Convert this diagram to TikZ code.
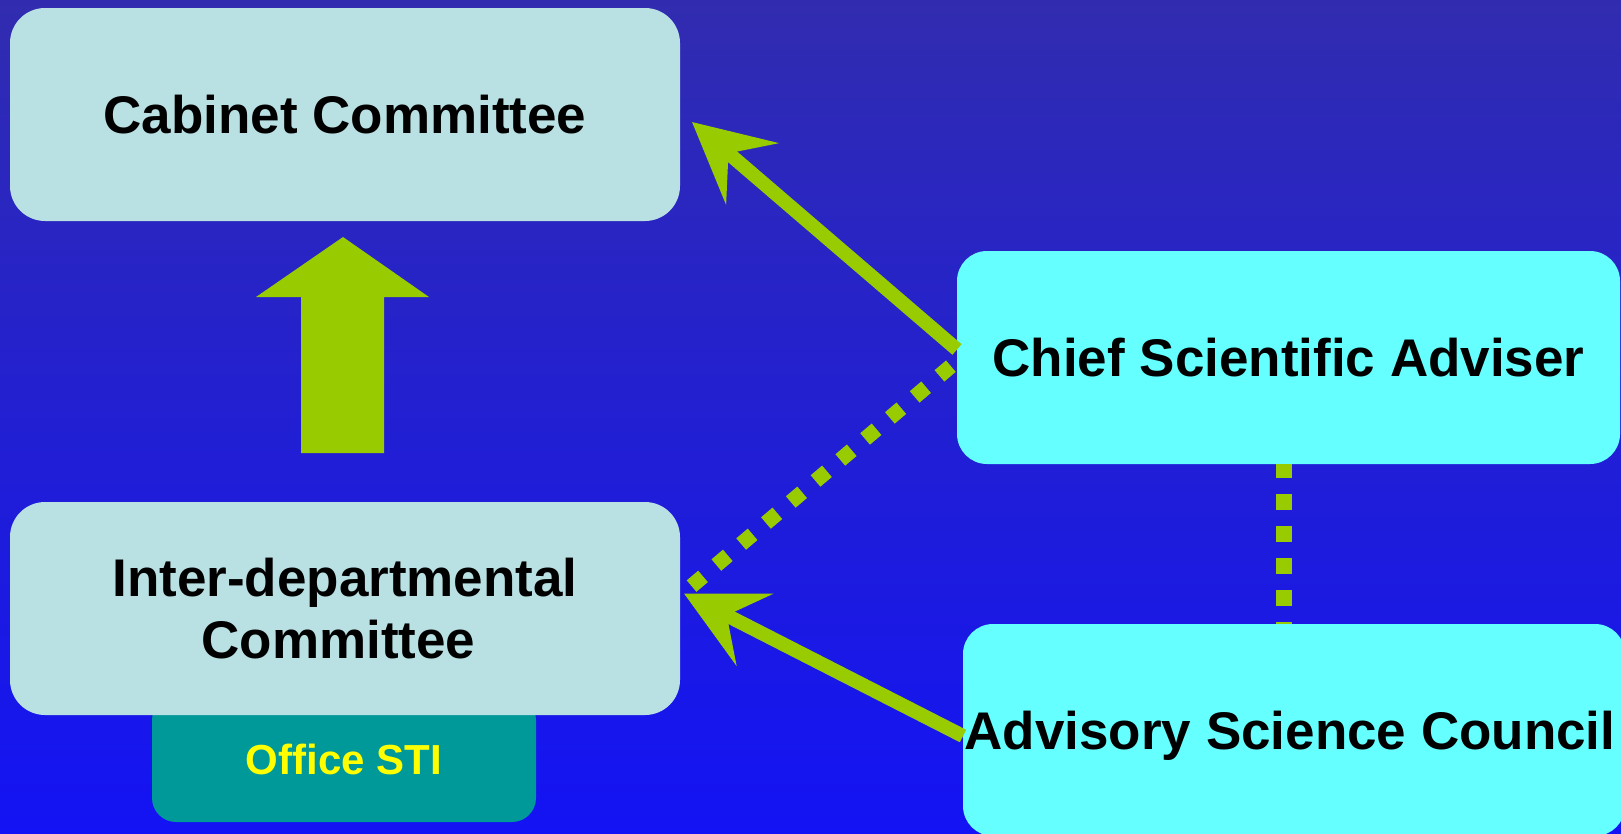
\documentclass[tikz,border=0pt]{standalone}
\usepackage{fontspec}
\setmainfont{Liberation Sans}
\usetikzlibrary{arrows.meta,calc}
\definecolor{bgtop}{RGB}{49,44,175}
\definecolor{bgbot}{RGB}{19,19,245}
\definecolor{lightbox}{RGB}{185,224,227}
\definecolor{cyanbox}{RGB}{102,255,255}
\definecolor{arrowgreen}{RGB}{153,204,0}
\definecolor{officeteal}{RGB}{0,153,153}
\definecolor{stiyellow}{RGB}{255,255,0}
\tikzset{
  box/.style={rounded corners=#1, inner sep=0pt, outer sep=0pt, align=center,
    font=\fontsize{53}{62}\selectfont\bfseries, text=black},
  govbox/.style={box=35pt, fill=lightbox, minimum width=670pt, minimum height=213pt},
  advbox/.style={box=30pt, fill=cyanbox, text height=38pt, text depth=0pt},
  officebox/.style={box=24pt, fill=officeteal, text=stiyellow,
    font=\fontsize{42}{50}\selectfont\bfseries, minimum width=384pt, minimum height=126pt},
  solidarrow/.style={draw=arrowgreen, line width=14pt,
    -{Stealth[length=79pt,width=80pt,inset=31pt]}},
  dotline/.style={draw=arrowgreen, line width=15pt, dash pattern=on 15pt off 17.5pt, dash phase=24.5pt},
  dotvline/.style={draw=arrowgreen, line width=16pt, dash pattern=on 16pt off 16pt, dash phase=14pt}
}
\begin{document}
\begin{tikzpicture}[x=1pt,y=-1pt]
\useasboundingbox (0,0) rectangle (1621,833);
\shade[top color=bgtop, bottom color=bgbot] (0,0) rectangle (1621,833);

% Office STI (behind Inter-departmental box)
\node[officebox, text height=30.5pt, text depth=0pt] (sti) at (344,759) {Office STI};

\node[govbox, text height=38pt, text depth=0pt] (cab) at (345,114.5) {Cabinet Committee};
\node[govbox] (idc) at (345,608.5) {Inter-departmental\\Committee\hspace*{13pt}};

\node[advbox, minimum width=663pt, minimum height=213pt] (csa) at (1288.5,357.5) {Chief Scientific Adviser};
\node[advbox, minimum width=662pt, minimum height=212pt] (asc) at (1294,730) {\hspace*{-8pt}Advisory Science Council};

% block arrow from IDC up to Cabinet
\fill[arrowgreen] (301,453) -- (301,297) -- (256,297) -- (343,237) -- (429,297)
  -- (384,297) -- (384,453) -- cycle;

% dotted connectors
\draw[dotline] ($(csa.west)+(0,3.5)$) -- ($(idc.east)+(4,-16)$);
\draw[dotvline] ($(asc.north)+(-10,0)$) -- ($(csa.south)+(-4.5,0)$);

% solid arrows
\draw[solidarrow] ($(csa.west)+(0,-8)$) -- ($(cab.east)+(12,7.5)$);
\draw[solidarrow] ($(asc.west)+(0,6)$) -- ($(idc.east)+(4,-15)$);
\end{tikzpicture}
\end{document}
